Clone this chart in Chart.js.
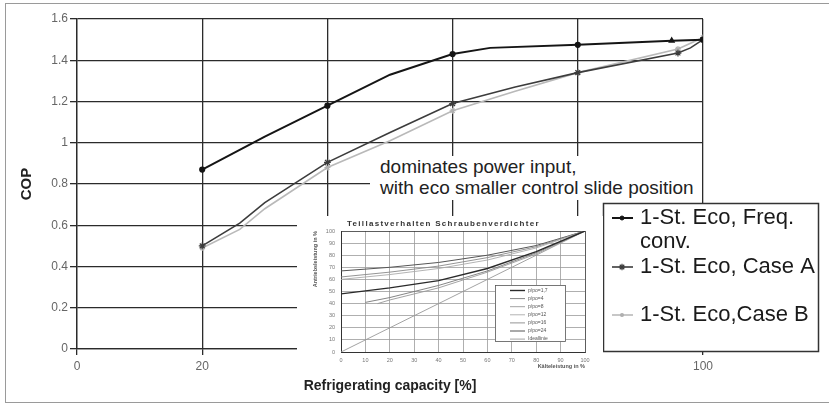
<!DOCTYPE html>
<html lang="en">
<head>
<meta charset="UTF-8">
<title>COP vs refrigerating capacity</title>
<script src="https://cdn.jsdelivr.net/npm/chart.js@4.4.1/dist/chart.umd.min.js"></script>
<style>
body { margin: 0; background: #fff; font-family: "Liberation Sans", Arial, sans-serif; }
#wrap { position: relative; width: 829px; height: 404px; overflow: hidden; }
#frame { position: absolute; left: 5px; top: 3px; width: 840px; height: 398px; border: 1.5px solid #9a9a9a; border-right: none; }
#main { position: absolute; left: 0; top: 0; }
#note { position: absolute; left: 370px; top: 156px; width: 322px; height: 44px; padding-left: 10px;
        background: #fff; font-size: 19px; line-height: 21px; color: #222; white-space: nowrap; }
#inset { position: absolute; left: 297px; top: 216px; background: #fff; }
</style>
</head>
<body>
<div id="wrap">
	<div id="frame"></div>
	<canvas id="main" width="829" height="404"></canvas>
	<div id="note">dominates power input,<br>with eco smaller control slide position</div>
	<canvas id="inset" width="306" height="159"></canvas>
</div>

<script>
// main chart data
var seriesNames = ['1-St. Eco, Freq. conv.', '1-St. Eco, Case A', '1-St. Eco,Case B'];

var capFreq  = [20, 30, 40, 50, 60, 66, 80, 95, 100];
var copFreq  = [0.87, 1.03, 1.18, 1.33, 1.43, 1.46, 1.475, 1.495, 1.50];

var capCaseA = [20, 26, 30, 40, 50, 60, 70, 80, 96, 98, 100];
var copCaseA = [0.50, 0.61, 0.71, 0.905, 1.05, 1.19, 1.27, 1.34, 1.435, 1.46, 1.50];

var capCaseB = [20, 26, 30, 40, 50, 60, 70, 80, 96, 100];
var copCaseB = [0.49, 0.58, 0.68, 0.88, 1.01, 1.155, 1.25, 1.34, 1.455, 1.51];

var xTitle = 'Refrigerating capacity [%]';
var yTitle = 'COP';

// inset chart data (small picture of the part load diagram)
var insetTitle = 'Teillastverhalten Schraubenverdichter';
var insetXTitle = 'Kälteleistung in %';
var insetYTitle = 'Antriebsleistung in %';
var insetNames = ['p/po=1,7', 'p/po=4', 'p/po=8', 'p/po=12', 'p/po=16', 'p/po=24', 'Ideallinie'];
var insetX = [
	[0, 20, 40, 60, 80, 100],
	[10, 20, 40, 60, 80, 100],
	[15, 20, 40, 60, 80, 100],
	[0, 20, 40, 60, 80, 100],
	[0, 20, 40, 60, 80, 100],
	[0, 20, 40, 60, 80, 100],
	[0, 100]
];
var insetY = [
	[48, 53, 59, 69, 83, 100],
	[41, 45, 55, 67, 82, 100],
	[40, 43, 53, 66, 81, 100],
	[60, 64, 69, 76, 86, 100],
	[62, 66, 71, 78, 87, 100],
	[67, 70, 74, 80, 88, 100],
	[0, 100]
];

Chart.defaults.font.family = '"Liberation Sans", Arial, sans-serif';

function pts(xs, ys) {
	return xs.map(function (x, i) { return { x: x, y: ys[i] }; });
}

// markers only where the original shows them
function markedAt(list, r) {
	return function (c) { return list.indexOf(c.raw.x) >= 0 ? r : 0; };
}

// legend box drawn on the main canvas
var legendBox = {
	id: 'legendBox',
	afterDraw: function (chart) {
		var ctx = chart.ctx;
		var rowsY = [218, 267, 315];
		ctx.save();
		ctx.fillStyle = '#fff';
		ctx.fillRect(603, 203, 216, 149);
		ctx.strokeStyle = '#333';
		ctx.lineWidth = 1.5;
		ctx.strokeRect(603.5, 203.5, 215, 148);
		ctx.font = '22px "Liberation Sans", Arial, sans-serif';
		ctx.textBaseline = 'middle';
		chart.data.datasets.forEach(function (ds, i) {
			var y = rowsY[i];
			// wrap label
			var words = ds.label.split(' ');
			var lines = [], cur = '';
			words.forEach(function (w) {
				var t = cur ? cur + ' ' + w : w;
				if (ctx.measureText(t).width > 182 && cur) { lines.push(cur); cur = w; } else { cur = t; }
			});
			lines.push(cur);
			ctx.strokeStyle = ds.borderColor;
			ctx.lineWidth = ds.borderWidth;
			ctx.beginPath();
			ctx.moveTo(612, y);
			ctx.lineTo(633, y);
			ctx.stroke();
			ctx.fillStyle = ds.pointBackgroundColor;
			ctx.strokeStyle = ds.pointBorderColor;
			ctx.lineWidth = ds.pointBorderWidth || 1;
			Chart.helpers.drawPoint(ctx, { pointStyle: ds.legendStyle, radius: ds.legendRadius, rotation: 0, borderWidth: ctx.lineWidth }, 622, y);
			ctx.fillStyle = '#1a1a1a';
			lines.forEach(function (l, k) { ctx.fillText(l, 640, y + k * 24); });
		});
		ctx.restore();
	}
};

new Chart(document.getElementById('main'), {
	type: 'line',
	data: {
		datasets: [{
			label: seriesNames[0],
			data: pts(capFreq, copFreq),
			borderColor: '#151515',
			borderWidth: 2,
			pointBackgroundColor: '#151515',
			pointBorderColor: '#151515',
			pointStyle: function (c) { return c.raw.x === 95 ? 'triangle' : 'circle'; },
			pointRadius: markedAt([20, 40, 60, 80, 95, 100], 2.1),
			legendStyle: 'circle',
			legendRadius: 2
		}, {
			label: seriesNames[1],
			data: pts(capCaseA, copCaseA),
			borderColor: '#3c3c3c',
			borderWidth: 1.6,
			pointBackgroundColor: '#3c3c3c',
			pointBorderColor: '#3c3c3c',
			pointBorderWidth: 1.2,
			pointStyle: 'star',
			pointRadius: markedAt([20, 40, 60, 80, 96, 100], 3.4),
			legendStyle: 'star',
			legendRadius: 3.2
		}, {
			label: seriesNames[2],
			data: pts(capCaseB, copCaseB),
			borderColor: '#b9b9b9',
			borderWidth: 1.6,
			pointBackgroundColor: '#b0b0b0',
			pointBorderColor: '#b0b0b0',
			pointBorderWidth: 1.1,
			pointStyle: 'star',
			pointRadius: markedAt([20, 40, 60, 80, 96, 100], 3),
			legendStyle: 'circle',
			legendRadius: 1.5
		}]
	},
	options: {
		responsive: false,
		animation: false,
		devicePixelRatio: 1,
		layout: { padding: { left: 0, top: 19, right: 126, bottom: 0 } },
		plugins: { legend: { display: false }, tooltip: { enabled: false } },
		scales: {
			x: {
				type: 'linear', min: 0, max: 100,
				afterFit: function (s) { s.height = 55; },
				ticks: { stepSize: 20, padding: 4, color: '#666', font: { size: 12 } },
				grid: { color: '#2b2b2b', lineWidth: 1.3, tickLength: 6 },
				border: { color: '#2b2b2b', width: 1.3 },
				title: { display: true, text: xTitle, color: '#222', font: { size: 14, weight: 'bold' }, padding: { top: 0, bottom: 9 } }
			},
			y: {
				min: 0, max: 1.6,
				afterFit: function (s) { s.width = 77; },
				ticks: { stepSize: 0.2, padding: 2, color: '#666', font: { size: 12 },
					callback: function (v) { return String(Math.round(v * 10) / 10); } },
				grid: { color: '#2b2b2b', lineWidth: 1.3, tickLength: 7 },
				border: { color: '#2b2b2b', width: 1.3 },
				title: { display: true, text: yTitle, color: '#222', font: { size: 15, weight: 'bold' }, padding: { top: 18, bottom: 0 } }
			}
		}
	},
	plugins: [legendBox]
});

// inset: title and small legend
var insetDeco = {
	id: 'insetDeco',
	afterDraw: function (chart) {
		var ctx = chart.ctx;
		ctx.save();
		ctx.fillStyle = '#333';
		ctx.font = 'bold 8px "Liberation Sans", Arial, sans-serif';
		ctx.letterSpacing = '1.3px';
		ctx.textBaseline = 'middle';
		ctx.fillText(insetTitle, 50, 8);
		ctx.letterSpacing = '0px';
		ctx.fillStyle = '#fff';
		ctx.fillRect(198, 69, 71, 57);
		ctx.strokeStyle = '#555';
		ctx.lineWidth = 0.8;
		ctx.strokeRect(198.5, 69.5, 70, 56);
		ctx.font = '5px "Liberation Sans", Arial, sans-serif';
		chart.data.datasets.forEach(function (ds, i) {
			var y = 74.5 + i * 8.1;
			ctx.strokeStyle = ds.borderColor;
			ctx.lineWidth = ds.borderWidth;
			ctx.beginPath();
			ctx.moveTo(213, y);
			ctx.lineTo(228, y);
			ctx.stroke();
			ctx.fillStyle = '#555';
			ctx.fillText(ds.label, 231, y);
		});
		ctx.restore();
	}
};

var insetColors = ['#2a2a2a', '#777', '#999', '#aaa', '#888', '#555', '#999'];
var insetWidths = [1.4, 0.9, 0.9, 0.9, 0.9, 1.0, 0.9];

new Chart(document.getElementById('inset'), {
	type: 'line',
	data: {
		datasets: insetNames.map(function (n, i) {
			return { label: n, data: pts(insetX[i], insetY[i]), borderColor: insetColors[i], borderWidth: insetWidths[i], pointRadius: 0 };
		})
	},
	options: {
		responsive: false,
		animation: false,
		devicePixelRatio: 1,
		layout: { padding: { left: 0, top: 15, right: 18, bottom: 0 } },
		plugins: { legend: { display: false }, tooltip: { enabled: false } },
		scales: {
			x: {
				type: 'linear', min: 0, max: 100,
				afterFit: function (s) { s.height = 23; },
				ticks: { stepSize: 10, padding: 5, color: '#777', font: { size: 5.5 } },
				grid: { drawTicks: false, color: function (c) { return c.tick.value === 100 ? '#333' : '#9a9a9a'; }, lineWidth: 0.8 },
				border: { color: '#333', width: 1 },
				title: { display: true, text: insetXTitle, align: 'end', color: '#555', font: { size: 5.5, weight: 'bold' }, padding: { top: 0, bottom: 5.7 } }
			},
			y: {
				min: 0, max: 100,
				afterFit: function (s) { s.width = 44; },
				ticks: { stepSize: 10, padding: 6, color: '#777', font: { size: 5.5 } },
				grid: { drawTicks: false, color: function (c) { return c.tick.value === 100 ? '#333' : '#9a9a9a'; }, lineWidth: 0.8 },
				border: { color: '#333', width: 1 },
				title: { display: true, text: insetYTitle, align: 'end', color: '#555', font: { size: 5.5, weight: 'bold' }, padding: { top: 14.7, bottom: 0 } }
			}
		}
	},
	plugins: [insetDeco]
});
</script>
</body>
</html>
